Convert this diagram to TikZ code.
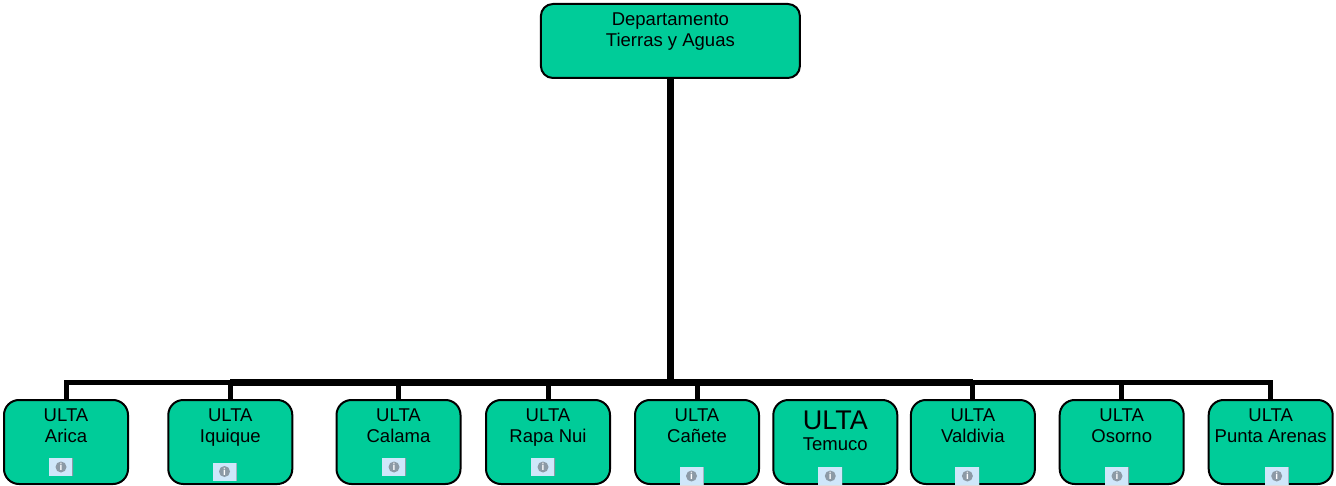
\documentclass[tikz,border=0pt]{standalone}
\usepackage{fontspec}
\setmainfont{Liberation Sans}
\usetikzlibrary{positioning}

\definecolor{ultagreen}{HTML}{00CC99}
\definecolor{infoblue}{HTML}{CFE7FA}
\definecolor{infogray}{HTML}{8C9AA6}

\newcommand{\ultagap}[1]{\\[#1]\mbox{}}

\tikzset{
    ultabox/.style={draw=black, fill=ultagreen, rounded corners=15pt, line width=2pt, outer sep=0pt,
        minimum width=124pt, minimum height=84pt, inner sep=0pt, align=center,
        font=\fontsize{18.5}{21}\selectfont},
    topbox/.style={ultabox, rounded corners=12pt, minimum width=259pt, minimum height=74pt},
    infobtn/.style={fill=infoblue, minimum width=24pt, minimum height=18pt, inner sep=0pt, outer sep=0pt,
        text=white, font=\fontsize{10}{10}\bfseries,
        path picture={
            \fill[infogray] (path picture bounding box.center) circle (5.5pt);
            \draw[infogray, line width=1.5pt] (path picture bounding box.north east) -- (path picture bounding box.south east);
        }},
    droplink/.style={draw=black, line width=5pt},
    mainbus/.style={draw=black, line width=7pt}
}

\begin{document}
\begin{tikzpicture}[x=1pt, y=1pt]
    \useasboundingbox (0,0) rectangle (1336,-486);

    \node[topbox] (departamento) at (670.4,-41) {Departamento\\Tierras y Aguas\ultagap{1.2pt}};

    \node[ultabox] (arica) at (66,-442) {ULTA\\Arica\ultagap{12pt}};
    \node[ultabox, right=40.3pt of arica] (iquique) {ULTA\\Iquique\ultagap{12pt}};
    \node[ultabox, right=44.2pt of iquique] (calama) {ULTA\\Calama\ultagap{12pt}};
    \node[ultabox, right=25.5pt of calama] (rapanui) {ULTA\\Rapa Nui\ultagap{12pt}};
    \node[ultabox, right=25pt of rapanui] (canete) {ULTA\\Cañete\ultagap{12pt}};
    \node[ultabox, right=14.3pt of canete] (temuco) {{\fontsize{27}{25}\selectfont ULTA}\\[0.7pt]Temuco\ultagap{1.4pt}};
    \node[ultabox, right=13.6pt of temuco] (valdivia) {ULTA\\Valdivia\ultagap{12pt}};
    \node[ultabox, right=24.8pt of valdivia] (osorno) {ULTA\\Osorno\ultagap{12pt}};
    \node[ultabox, right=25pt of osorno] (puntaarenas) {ULTA\\Punta Arenas\ultagap{12pt}};

    \node[infobtn] (infoarica) at ([xshift=-5pt, yshift=17pt]arica.south) {i};
    \node[infobtn] (infoiquique) at ([xshift=-5.8pt, yshift=12.5pt]iquique.south) {i};
    \node[infobtn] (infocalama) at ([xshift=-4.5pt, yshift=17pt]calama.south) {i};
    \node[infobtn] (inforapanui) at ([xshift=-5pt, yshift=17pt]rapanui.south) {i};
    \node[infobtn] (infocanete) at ([xshift=-5.5pt, yshift=8pt]canete.south) {i};
    \node[infobtn] (infotemuco) at ([xshift=-5pt, yshift=8pt]temuco.south) {i};
    \node[infobtn] (infovaldivia) at ([xshift=-5.5pt, yshift=8pt]valdivia.south) {i};
    \node[infobtn] (infoosorno) at ([xshift=-4.7pt, yshift=8pt]osorno.south) {i};
    \node[infobtn] (infopuntaarenas) at ([xshift=6pt, yshift=8pt]puntaarenas.south) {i};

    \coordinate (junction) at (670.4,-382.5);

    \draw[mainbus] (departamento.south) -- (junction);
    \draw[mainbus] (iquique.north |- junction) -- (valdivia.north |- junction);

    \draw[droplink] (arica.north) |- (junction);
    \draw[droplink] (iquique.north) -- (iquique.north |- junction);
    \draw[droplink] (calama.north) -- (calama.north |- junction);
    \draw[droplink] (rapanui.north) -- (rapanui.north |- junction);
    \draw[droplink] (canete.north) -- (canete.north |- junction);
    \draw[droplink] (valdivia.north) -- (valdivia.north |- junction);
    \draw[droplink] (osorno.north) -- (osorno.north |- junction);
    \draw[droplink] (puntaarenas.north) |- (junction);
\end{tikzpicture}
\end{document}
